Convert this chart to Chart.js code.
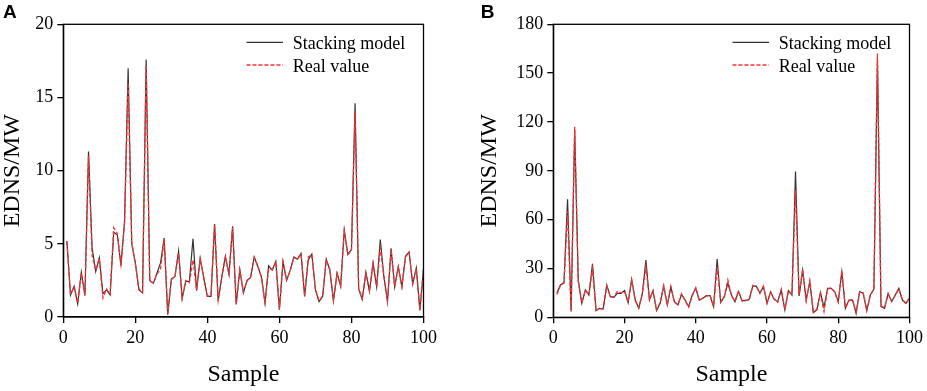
<!DOCTYPE html>
<html>
<head>
<meta charset="utf-8">
<script src="https://cdn.jsdelivr.net/npm/chart.js@4/dist/chart.umd.min.js"></script>
<style>
  html, body { margin: 0; padding: 0; background: #fff; }
  #wrap { position: relative; width: 927px; height: 391px; }
  #chartA { position: absolute; left: 0; top: 0; }
  #chartB { position: absolute; left: 463px; top: 0; }
</style>
</head>
<body>
<div id="wrap">
  <canvas id="chartA" width="463" height="391"></canvas>
  <canvas id="chartB" width="464" height="391"></canvas>
</div>
<script>
// sample numbers 1..100 (x axis)
const samples = Array.from({ length: 100 }, (_, i) => i + 1);

// panel A values
const stackA = [
  5.2, 1.5, 2.1, 0.9, 3.05, 1.45, 11.3, 4.7, 3.1, 4.05,
  1.6, 1.85, 1.5, 5.8, 5.6, 3.5, 6.5, 17.0, 5.0, 3.7,
  1.85, 1.65, 17.6, 2.5, 2.3, 3.0, 3.7, 5.4, 0.15, 2.6,
  2.75, 4.5, 1.25, 2.45, 2.4, 5.35, 1.8, 4.0, 2.65, 1.4,
  1.4, 6.35, 1.1, 2.75, 4.15, 2.9, 6.2, 0.85, 3.25, 1.65,
  2.5, 2.7, 4.1, 3.45, 2.75, 0.95, 3.5, 3.2, 3.8, 0.5,
  3.8, 2.5, 3.2, 4.1, 3.95, 4.35, 1.4, 3.9, 4.3, 1.85,
  1.05, 1.4, 3.95, 3.2, 1.1, 3.0, 2.1, 5.95, 4.3, 4.6,
  14.6, 1.9, 1.2, 3.05, 1.75, 3.7, 2.05, 5.3, 2.75, 1.05,
  4.7, 2.05, 3.45, 2.05, 4.15, 4.45, 2.25, 3.35, 0.45, 3.3
];
const realA = [
  5.1, 1.55, 2.05, 0.95, 3.0, 1.5, 11.0, 4.2, 3.2, 4.0,
  1.3, 1.9, 1.55, 6.1, 5.7, 3.6, 6.4, 16.0, 5.1, 3.65,
  1.9, 1.7, 17.2, 2.45, 2.35, 2.9, 3.3, 5.3, 0.25, 2.55,
  2.8, 4.4, 1.3, 2.5, 2.35, 3.9, 1.85, 3.95, 2.7, 1.45,
  1.45, 6.3, 1.15, 2.7, 4.1, 2.95, 6.1, 0.9, 3.2, 1.7,
  2.45, 2.75, 4.05, 3.5, 2.7, 1.0, 3.3, 3.25, 3.75, 0.55,
  3.75, 2.55, 3.15, 4.05, 4.0, 4.3, 1.45, 4.1, 4.25, 1.9,
  1.1, 1.45, 3.9, 3.25, 1.15, 2.95, 2.15, 5.85, 4.25, 4.55,
  14.0, 1.95, 1.25, 3.0, 1.8, 3.65, 2.1, 4.7, 2.8, 1.1,
  4.6, 2.1, 3.4, 2.1, 4.1, 4.4, 2.3, 3.3, 0.5, 3.25
];
const ticksA = [0, 5, 10, 15, 20];

// panel B values
const stackB = [
  15, 19.9, 21.3, 72.5, 3.5, 115, 23, 8.6, 16.8, 13.7,
  32.8, 4.1, 5.5, 5.1, 19.9, 12.7, 12.3, 14.7, 14.7, 16.4,
  9, 23.3, 10.6, 5.5, 14.7, 35.2, 10.6, 16.4, 4.1, 8.6,
  19.2, 7.6, 18.6, 9.6, 7.6, 14.1, 10.6, 6.5, 13.7, 17.8,
  10.6, 11.7, 13.3, 13.3, 6.5, 35.8, 9, 12.7, 20.9, 13.7,
  9.6, 15.8, 10.2, 10.2, 11, 19.2, 19.2, 14.7, 18.8, 8.6,
  15.8, 11, 9.6, 16.8, 4.5, 16.4, 13.7, 89.5, 13.1, 29,
  10.6, 21.9, 2.9, 4.5, 15.2, 6.1, 17.8, 17.8, 15.8, 9.6,
  28, 5.5, 10.6, 10.6, 2.5, 15.8, 14.7, 4.1, 13.7, 17.2,
  158, 6.5, 5.5, 14.7, 9.6, 13.7, 17.8, 10.6, 8.6, 11.7
];
const realB = [
  14, 19.5, 21, 65, 4, 117, 22, 9, 16.5, 14,
  30, 4.5, 5.2, 5.4, 19, 13, 12.5, 16, 15, 16,
  9.5, 23, 10.2, 6, 14.2, 31, 11, 16, 4.5, 9,
  19.5, 7.2, 19, 9.2, 7.9, 14.5, 10.2, 6.2, 13.2, 18.2,
  10.2, 12, 13, 13.6, 6.9, 31, 9.4, 12.4, 23, 13.4,
  9.9, 16.2, 10, 10.5, 10.6, 19.6, 18.8, 15, 19.2, 8.9,
  15.4, 11.4, 9.2, 17.2, 4.8, 16, 14.2, 78, 13.6, 29.5,
  10.2, 22.3, 3.2, 4.9, 14.8, 3.5, 17.2, 18.2, 15.4, 9.2,
  28.5, 5.9, 10.2, 11, 2.8, 15.4, 15.1, 4.4, 13.3, 17.6,
  162, 6.9, 5.9, 14.3, 9.9, 13.4, 17.4, 10.9, 8.3, 12.1
];
const ticksB = [0, 30, 60, 90, 120, 150, 180];

const xTicks = [0, 20, 40, 60, 80, 100];
const seriesNames = ['Stacking model', 'Real value'];

const serif = 'Liberation Serif, Times New Roman, serif';

const toPoints = (vals) => samples.map((s, i) => ({ x: s, y: vals[i] }));

// frame, legend and panel letter
const decorPlugin = (letter, letterX) => ({
    id: 'decor',
    afterDraw(chart) {
        const { ctx, chartArea: a } = chart;
        ctx.save();
        ctx.strokeStyle = '#000';
        ctx.lineWidth = 1.3;
        ctx.strokeRect(a.left, a.top, a.right - a.left, a.bottom - a.top);

        chart.data.datasets.forEach((ds, i) => {
            const y = a.top + 18 + i * 22.7;
            ctx.beginPath();
            ctx.strokeStyle = ds.borderColor;
            ctx.lineWidth = ds.borderWidth;
            ctx.setLineDash(ds.borderDash || []);
            ctx.moveTo(a.right - 177, y);
            ctx.lineTo(a.right - 140.5, y);
            ctx.stroke();
            ctx.setLineDash([]);
            ctx.fillStyle = '#000';
            ctx.font = '18px ' + serif;
            ctx.textBaseline = 'alphabetic';
            ctx.fillText(ds.label, a.right - 130.8, y + 7);
        });

        ctx.fillStyle = '#000';
        ctx.font = 'bold 19px Liberation Sans, Arial, sans-serif';
        ctx.textBaseline = 'alphabetic';
        ctx.fillText(letter, letterX, 18);
        ctx.restore();
    }
});

const makeChart = (id, stack, real, yTicks, cfg) => {
    const ctx = document.getElementById(id);
    return new Chart(ctx, {
        type: 'line',
        data: {
            datasets: [{
                label: seriesNames[0],
                data: toPoints(stack),
                borderColor: '#333333',
                borderWidth: 1.2,
                order: 1,
            }, {
                label: seriesNames[1],
                data: toPoints(real),
                borderColor: '#ff3030',
                borderWidth: 1.3,
                borderDash: [4, 2],
                order: 0,
            }]
        },
        options: {
            responsive: false,
            animation: false,
            layout: {
                padding: { top: 24.3, right: cfg.padRight, left: cfg.padLeft, bottom: 0 }
            },
            elements: {
                point: { radius: 0 },
                line: { tension: 0 },
            },
            plugins: {
                legend: { display: false },
                tooltip: { enabled: false },
            },
            scales: {
                x: {
                    type: 'linear',
                    min: 0,
                    max: 100,
                    afterBuildTicks: (s) => { s.ticks = xTicks.map(v => ({ value: v })); },
                    ticks: {
                        color: '#000',
                        font: { family: serif, size: 18 },
                        padding: 4,
                        maxRotation: 0,
                    },
                    grid: {
                        drawOnChartArea: false,
                        drawTicks: true,
                        tickLength: 6,
                        color: '#000',
                        lineWidth: 1.3,
                    },
                    border: { color: '#000', width: 1.3 },
                    title: {
                        display: true,
                        text: 'Sample',
                        color: '#000',
                        font: { family: serif, size: 24 },
                        padding: { top: 0, bottom: 2 },
                    },
                    afterFit: (s) => { s.height = cfg.xHeight; },
                },
                y: {
                    min: yTicks[0],
                    max: yTicks[yTicks.length - 1],
                    afterBuildTicks: (s) => { s.ticks = yTicks.map(v => ({ value: v })); },
                    ticks: {
                        color: '#000',
                        font: { family: serif, size: 18 },
                        padding: 4,
                    },
                    grid: {
                        drawOnChartArea: false,
                        drawTicks: true,
                        tickLength: 6,
                        color: '#000',
                        lineWidth: 1.3,
                    },
                    border: { color: '#000', width: 1.3 },
                    title: {
                        display: true,
                        text: 'EDNS/MW',
                        color: '#000',
                        font: { family: serif, size: 24, lineHeight: 1 },
                        padding: { top: 0.6, bottom: 0 },
                    },
                    afterFit: (s) => { s.width = cfg.yWidth; },
                }
            }
        },
        plugins: [decorPlugin(cfg.letter, cfg.letterX)]
    });
};

makeChart('chartA', stackA, realA, ticksA, {
    padLeft: 0, padRight: 39.5, yWidth: 63.3, xHeight: 74, letter: 'A', letterX: 3
});
makeChart('chartB', stackB, realB, ticksB, {
    padLeft: 14.6, padRight: 15, yWidth: 75.7, xHeight: 73.7, letter: 'B', letterX: 17.7
});
</script>
</body>
</html>
